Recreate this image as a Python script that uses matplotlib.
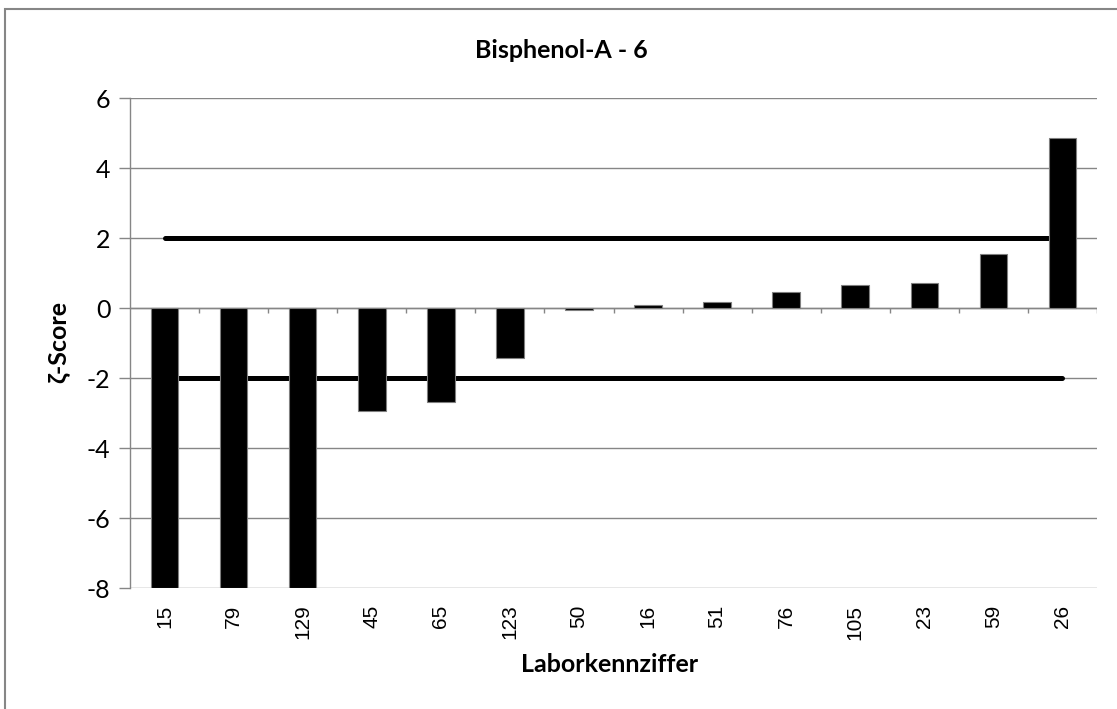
import numpy as np
import matplotlib
matplotlib.use("Agg")
import matplotlib.pyplot as plt
from matplotlib.patches import Rectangle

# Daten
labore = ['15', '79', '129', '45', '65', '123', '50', '16', '51', '76', '105', '23', '59', '26']
zeta = [-8.0, -8.0, -8.0, -2.93, -2.69, -1.44, -0.06, 0.10, 0.16, 0.45, 0.65, 0.72, 1.53, 4.87]
grenzen = [2, -2]

titel = "Bisphenol-A - 6"
xlabel = "Laborkennziffer"
ylabel = "ζ-Score"

plt.rcParams['axes.unicode_minus'] = False

W, H = 1117, 709
fig = plt.figure(figsize=(W / 100, H / 100), dpi=100)
ax = fig.add_axes([130 / W, 1 - 588 / H, (1097 - 130) / W, (588 - 98) / H])

grau = '#868686'
txtfont = ['Lato', 'Open Sans', 'DejaVu Sans']

x = np.arange(len(labore))

# Grenzlinien (von Mitte erster bis Mitte letzter Kategorie)
for g in grenzen:
    ax.plot([x[0], x[-1]], [g, g], color='black', lw=3.6,
            solid_capstyle='round', zorder=3)

ax.bar(x, zeta, width=0.4, color='black', edgecolor='#7f7f7f',
       linewidth=0.8, zorder=4)

ax.set_xlim(-0.5, len(labore) - 0.5)
ax.set_ylim(-8, 6)
ax.set_yticks(np.arange(-8, 7, 2))
ax.grid(axis='y', color=grau, lw=1.0, zorder=0)
ax.set_axisbelow(True)

# Kategorieachse bei 0 mit Teilstrichen an den Grenzen
ax.axhline(0, color=grau, lw=1.0, zorder=2)
ax.vlines(np.arange(len(labore)) + 0.5, -0.15, 0, color=grau, lw=1.0, zorder=2)

for s in ['top', 'right', 'bottom']:
    ax.spines[s].set_visible(False)
ax.spines['left'].set_color(grau)
ax.spines['left'].set_linewidth(1.0)

ax.tick_params(axis='y', length=8, width=1.0, color=grau, pad=6,
               labelsize=18)
for t in ax.get_yticklabels():
    t.set_family(txtfont)
ax.set_xticks(x)
ax.set_xticklabels(labore, rotation=90, fontsize=15, family='Liberation Sans')
ax.tick_params(axis='x', length=0, pad=12)

fig.text(561 / W, 1 - 50 / H, titel, ha='center', va='center',
         fontsize=18, fontweight='bold', family=txtfont)
fig.text(610 / W, 1 - 665 / H, xlabel, ha='center', va='center',
         fontsize=18, fontweight='bold', family=txtfont)
fig.text(58 / W, 1 - 342 / H, ylabel, ha='center', va='center',
         rotation=90, fontsize=18, fontweight='bold', family=txtfont)

# Rahmen des Diagrammbereichs
fig.patches.append(Rectangle((5 / W, -0.1), 1.2, 1.1 - 9 / H,
                             transform=fig.transFigure, fill=False,
                             edgecolor=grau, lw=1.5))

fig.savefig('out.png', dpi=100)
